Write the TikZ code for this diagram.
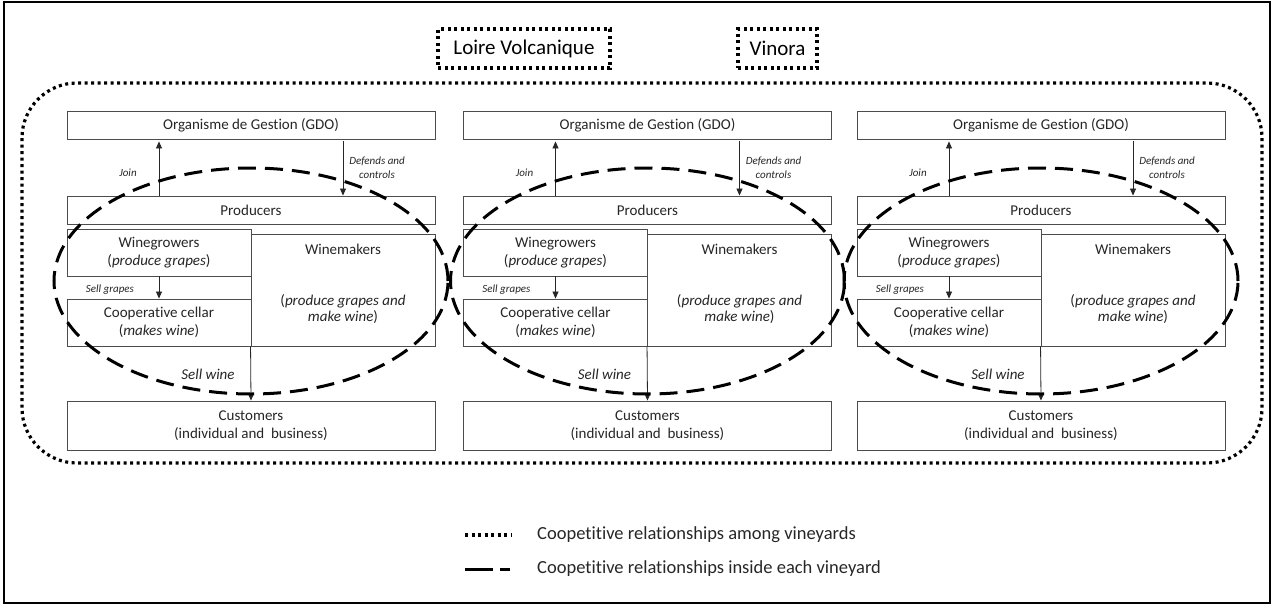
\documentclass[tikz,border=0pt]{standalone}
\usepackage{fontspec}
\setmainfont{Carlito}[Ligatures=NoCommon]
\usepackage{tikz}
\usetikzlibrary{arrows.meta, positioning, shapes.geometric, calc}

\begin{document}
\begin{tikzpicture}[x=1pt, y=-1pt,
    box/.style={draw=black!70, line width=0.9pt, fill=white, align=center, inner sep=0pt, text=black!85, font=\fontsize{15}{18}\selectfont},
    txt/.style={align=center, inner sep=0pt, text=black!85, font=\fontsize{15}{16}\selectfont},
    arr/.style={draw=black!85, line width=0.8pt, -{Triangle[length=7pt, width=6pt]}},
    lbl/.style={align=center, inner sep=0pt, text=black!85, font=\fontsize{11}{14}\selectfont\itshape},
    ring/.style={ellipse, draw, inner sep=0pt, line width=3pt, dash pattern=on 18pt off 9pt},
    among/.style={draw, line width=3.2pt, dash pattern=on 3pt off 3.5pt}]
    \useasboundingbox (0,0) rectangle (1274,605);
    \draw[line width=1.5pt] (4,2) rectangle (1270,603);
    \node[among, minimum width=172pt, minimum height=39pt, inner sep=0pt, font=\fontsize{21}{24}\selectfont] (loire) at (524,48.5) {Loire Volcanique};
    \node[among, minimum width=79pt, minimum height=39pt, inner sep=0pt, font=\fontsize{21}{24}\selectfont] (vinora) at (777.5,48.5) {Vinora};
    \draw[among, rounded corners=55pt] (22,83) rectangle (1262,463);
    \foreach \i/\dx in {1/0, 2/396.5, 3/790} {
        \begin{scope}[shift={(\dx,0)}]
        \node[box, minimum width=368pt, minimum height=28pt] (gdo\i) at (251,125) {Organisme de Gestion (GDO)};
        \node[box, minimum width=368pt, minimum height=28pt] (prod\i) at (251,210) {Producers};
        \node[box, minimum width=184pt, minimum height=112pt] (make\i) at (343,290) {};
        \node[box, minimum width=184pt, minimum height=47pt] (grow\i) at (159,252.5) {Winegrowers\\(\textit{produce grapes})};
        \node[box, minimum width=184pt, minimum height=47pt] (cell\i) at (159,322.5) {Cooperative cellar\\(\textit{makes wine})};
        \node[box, minimum width=368pt, minimum height=49pt] (cust\i) at (251,425.5) {Customers\\(individual and\ \ business)};
        \node[txt] (maketitle\i) at ($(make\i.north)+(0,16)$) {Winemakers};
        \node[txt] (makenote\i) at (343,309) {(\textit{produce grapes and}\\\textit{make wine})};
        \draw[arr, shorten >=2pt] (prod\i.north -| grow\i.north) -- (gdo\i.south -| grow\i.north);
        \draw[arr, shorten <=2pt] (gdo\i.south -| make\i.north) -- (prod\i.north -| make\i.north);
        \draw[arr] (grow\i.south) -- (cell\i.north);
        \draw[arr] (make\i.south west) -- (cust\i.north);
        \node[lbl] (join\i) at (128,173) {Join};
        \node[lbl] (defend\i) at (377,168) {Defends and\\controls};
        \node[lbl] (sellg\i) at (110,290) {Sell grapes};
        \node[lbl, font=\fontsize{15}{18}\selectfont\itshape] (sellw\i) at (208,374) {Sell wine};
        \node[ring, minimum width=394pt, minimum height=226pt] (ring\i) at (251,281) {};
        \end{scope}
    }
    \coordinate (dotA) at (465,535);
    \coordinate (dotB) at (511,535);
    \draw[among] (dotA) -- (dotB);
    \coordinate (dashA) at (465,569);
    \coordinate (dashB) at (510,569);
    \draw[line width=3pt, dash pattern=on 28pt off 7pt on 10pt off 50pt] (dashA) -- (dashB);
    \node[anchor=west, inner sep=0pt, text=black!85, font=\fontsize{18.5}{20}\selectfont] (leg1) at (537,535) {Coopetitive relationships among vineyards};
    \node[anchor=west, inner sep=0pt, text=black!85, font=\fontsize{18.5}{20}\selectfont] (leg2) at (537,569) {Coopetitive relationships inside each vineyard};
\end{tikzpicture}
\end{document}
